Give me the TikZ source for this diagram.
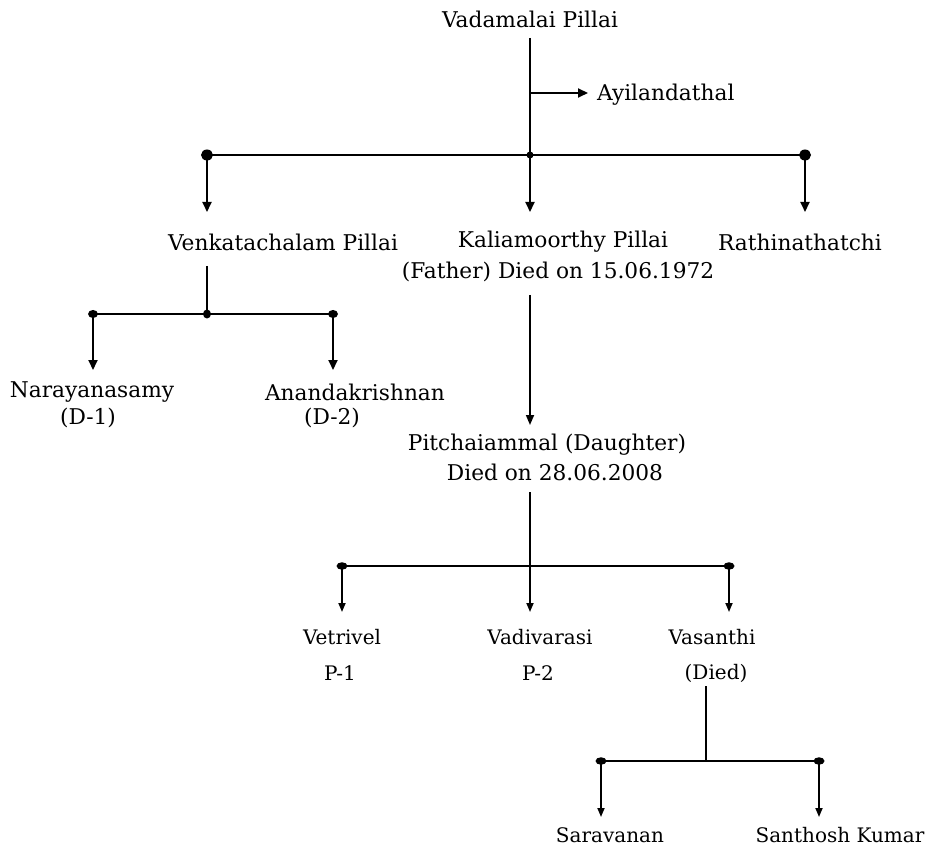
\documentclass[tikz,border=0pt]{standalone}
\usepackage{fontspec}
\setmainfont{DejaVu Serif}
\usetikzlibrary{arrows.meta,shapes.geometric}
\tikzset{
  lbl/.style={inner sep=0pt, font=\fontsize{21.7}{26}\selectfont},
  lbls/.style={inner sep=0pt, font=\fontsize{20}{24}\selectfont},
  ln/.style={line width=2pt},
  lns/.style={line width=1.7pt},
  arr/.style={ln, -{Triangle[length=10pt,width=9pt]}},
  arrs/.style={lns, -{Triangle[length=9pt,width=7pt]}},
  bigdot/.style={fill, ellipse, minimum width=12pt, minimum height=11pt, inner sep=0pt},
}
\begin{document}
\begin{tikzpicture}[x=1pt,y=-1pt]
\useasboundingbox (0,0) rectangle (929,850);
% texts
\node[lbl] (vp) at (530,19) {Vadamalai Pillai};
\node[lbl, anchor=west] (ay) at (597,95) {Ayilandathal};
\node[lbl] (ve) at (283,242) {Venkatachalam Pillai};
\node[lbl] (ka1) at (563,242) {Kaliamoorthy Pillai};
\node[lbl] (ka2) at (558,272) {(Father) Died on 15.06.1972};
\node[lbl] (ra) at (800,242) {Rathinathatchi};
\node[lbl] (na) at (92,392) {Narayanasamy};
\node[lbl] (d1) at (88,418) {(D-1)};
\node[lbl] (an) at (355,392) {Anandakrishnan};
\node[lbl] (d2) at (332,418) {(D-2)};
\node[lbl] (pi1) at (547,445) {Pitchaiammal (Daughter)};
\node[lbl] (pi2) at (555,472) {Died on 28.06.2008};
\node[lbls] (vt) at (342,637) {Vetrivel};
\node[lbls] (p1) at (340,673) {P-1};
\node[lbls] (vd) at (540,637) {Vadivarasi};
\node[lbls] (p2) at (538,673) {P-2};
\node[lbls] (vs) at (712,637) {Vasanthi};
\node[lbls] (di) at (716,673) {(Died)};
\node[lbls] (sa) at (610,835) {Saravanan};
\node[lbls] (sk) at (840,835) {Santhosh Kumar};
% junction coordinates
\coordinate (t0) at (530,38);
\coordinate (tA) at (530,93);
\coordinate (ayA) at (588,93);
\coordinate (b1L) at (207,155);
\coordinate (b1C) at (530,155);
\coordinate (b1R) at (805,155);
\coordinate (veA) at (207,212);
\coordinate (kaA) at (530,212);
\coordinate (raA) at (805,212);
\coordinate (v0) at (207,266);
\coordinate (b2L) at (93,314);
\coordinate (b2C) at (207,314);
\coordinate (b2R) at (333,314);
\coordinate (naA) at (93,370);
\coordinate (anA) at (333,370);
\coordinate (k0) at (530,295);
\coordinate (piA) at (530,425);
\coordinate (p0) at (530,492);
\coordinate (b3L) at (342,566);
\coordinate (b3C) at (530,566);
\coordinate (b3R) at (729,566);
\coordinate (vtA) at (342,612);
\coordinate (vdA) at (530,612);
\coordinate (vsA) at (729,612);
\coordinate (s0) at (706,686);
\coordinate (b4L) at (601,761);
\coordinate (b4C) at (706,761);
\coordinate (b4R) at (819,761);
\coordinate (saA) at (601,817);
\coordinate (skA) at (819,817);
% top
\draw[ln] (t0) -- (b1C);
\draw[arr] (tA) -- (ayA);
\draw[ln] (b1L) -- (b1R);
\draw[arr] (b1L) -- (veA);
\draw[arr] (b1C) -- (kaA);
\draw[arr] (b1R) -- (raA);
\node[bigdot] at (b1L) {};
\node[bigdot] at (b1R) {};
\fill (b1C) circle (3.5pt);
% Venkatachalam
\draw[ln] (v0) -- (b2C);
\draw[ln] (b2L) -- (b2R);
\draw[arr] (b2L) -- (naA);
\draw[arr] (b2R) -- (anA);
\node[bigdot, minimum width=10pt, minimum height=8pt] at (b2L) {};
\node[bigdot, minimum width=8pt, minimum height=9pt] at (b2C) {};
\node[bigdot, minimum width=10pt, minimum height=8pt] at (b2R) {};
% Kaliamoorthy -> Pitchaiammal
\draw[lns, -{Triangle[length=10pt,width=8pt]}] (k0) -- (piA);
% Pitchaiammal children
\draw[arrs] (p0) -- (vdA);
\draw[ln] (b3L) -- (b3R);
\draw[arrs] (b3L) -- (vtA);
\draw[arrs] (b3R) -- (vsA);
\node[bigdot, minimum width=11pt, minimum height=7.5pt] at (b3L) {};
\node[bigdot, minimum width=11pt, minimum height=7.5pt] at (b3R) {};
% Vasanthi children
\draw[lns] (s0) -- (b4C);
\draw[ln] (b4L) -- (b4R);
\draw[arrs] (b4L) -- (saA);
\draw[arrs] (b4R) -- (skA);
\node[bigdot, minimum width=11pt, minimum height=7.5pt] at (b4L) {};
\node[bigdot, minimum width=11pt, minimum height=7.5pt] at (b4R) {};
\end{tikzpicture}
\end{document}
